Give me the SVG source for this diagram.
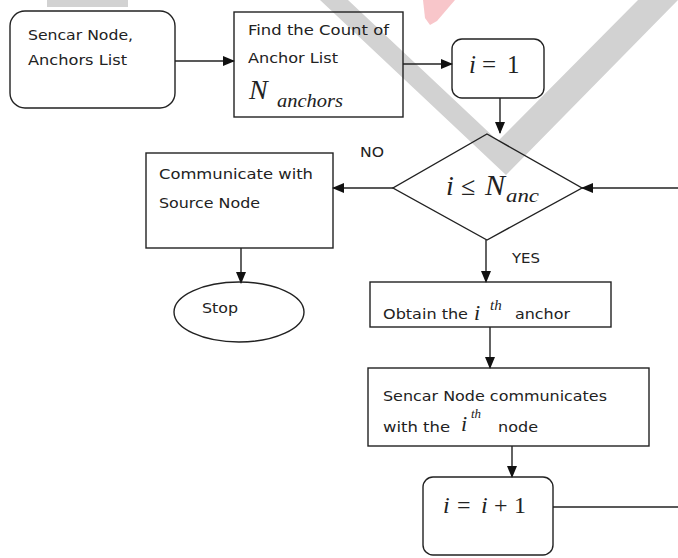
<svg xmlns="http://www.w3.org/2000/svg" width="678" height="558" viewBox="0 0 678 558">
<defs>
<marker id="ah" markerWidth="12" markerHeight="10" refX="11" refY="5" orient="auto" markerUnits="userSpaceOnUse">
<path d="M0,0 L12,5 L0,10 Z" fill="#111"/>
</marker>
<style>
.bx{fill:none;stroke:#222;stroke-width:1.4}
.ln{fill:none;stroke:#222;stroke-width:1.4}
.t{font-family:"DejaVu Sans",Verdana,sans-serif;font-size:14px;fill:#222}
.m{font-family:"Liberation Serif","Times New Roman",serif;fill:#222}
.it{font-style:italic}
.wm{fill:#d2d2d2}
</style>
</defs>
<rect width="678" height="558" fill="#fff"/>
<g id="watermark">
<rect class="wm" x="47" y="0" width="81" height="7"/>
<polygon class="wm" points="320,0 348,0 498,141 638,0 678,0 506,175"/>
<polygon fill="#f8c6ca" points="423,0 455,0 437,21 430,25 425,18"/>
</g>
<g id="connectors">
<line class="ln" x1="175" y1="61" x2="234" y2="61" marker-end="url(#ah)"/>
<line class="ln" x1="403" y1="64" x2="452" y2="64" marker-end="url(#ah)"/>
<line class="ln" x1="500" y1="98" x2="500" y2="133" marker-end="url(#ah)"/>
<line class="ln" x1="393" y1="188" x2="333" y2="188" marker-end="url(#ah)"/>
<line class="ln" x1="678" y1="188" x2="582" y2="188" marker-end="url(#ah)"/>
<line class="ln" x1="241" y1="248" x2="241" y2="283" marker-end="url(#ah)"/>
<line class="ln" x1="486" y1="240" x2="486" y2="282" marker-end="url(#ah)"/>
<line class="ln" x1="490" y1="327" x2="490" y2="368" marker-end="url(#ah)"/>
<line class="ln" x1="512" y1="446" x2="512" y2="477" marker-end="url(#ah)"/>
<line class="ln" x1="553" y1="507" x2="678" y2="507"/>
<text class="t" x="360" y="157" font-size="13" textLength="24" lengthAdjust="spacingAndGlyphs">NO</text>
<text class="t" x="512" y="263" font-size="13" textLength="28" lengthAdjust="spacingAndGlyphs">YES</text>
</g>
<g id="start">
<rect class="bx" x="10" y="11" width="165" height="97" rx="15"/>
<text class="t" x="28" y="40" textLength="105" lengthAdjust="spacingAndGlyphs">Sencar Node,</text>
<text class="t" x="28" y="65" textLength="99" lengthAdjust="spacingAndGlyphs">Anchors List</text>
</g>
<g id="count">
<rect class="bx" x="234" y="12" width="169" height="105"/>
<text class="t" x="248" y="35" textLength="141" lengthAdjust="spacingAndGlyphs">Find the Count of</text>
<text class="t" x="248" y="63" textLength="90" lengthAdjust="spacingAndGlyphs">Anchor List</text>
<text class="m it" x="249" y="99" font-size="28">N</text>
<text class="m it" x="277" y="107" font-size="18" textLength="66" lengthAdjust="spacingAndGlyphs">anchors</text>
</g>
<g id="init">
<rect class="bx" x="452" y="39" width="92" height="59" rx="10"/>
<text class="m it" x="469" y="73" font-size="25">i</text>
<text class="m" x="482" y="73" font-size="25">=</text>
<text class="m" x="507" y="73" font-size="25">1</text>
</g>
<g id="decision">
<polygon class="bx" points="487,134 582,188 487,240 393,188"/>
<text class="m it" x="446" y="195" font-size="28">i</text>
<text class="m" x="461" y="195" font-size="26">≤</text>
<text class="m it" x="485" y="195" font-size="30">N</text>
<text class="m it" x="506" y="202" font-size="18" textLength="33" lengthAdjust="spacingAndGlyphs">anc</text>
</g>
<g id="communicate">
<rect class="bx" x="146" y="153" width="187" height="95"/>
<text class="t" x="159" y="179" textLength="154" lengthAdjust="spacingAndGlyphs">Communicate  with</text>
<text class="t" x="159" y="208" textLength="101" lengthAdjust="spacingAndGlyphs">Source Node</text>
</g>
<g id="stop">
<ellipse class="bx" cx="239" cy="312" rx="65" ry="30"/>
<text class="t" x="202" y="313" textLength="36" lengthAdjust="spacingAndGlyphs">Stop</text>
</g>
<g id="obtain">
<rect class="bx" x="370" y="282" width="241" height="45"/>
<text class="t" x="383" y="319" textLength="85" lengthAdjust="spacingAndGlyphs">Obtain the</text>
<text class="m it" x="474" y="320" font-size="22">i</text>
<text class="m it" x="490" y="310" font-size="15">th</text>
<text class="t" x="515" y="319" textLength="55" lengthAdjust="spacingAndGlyphs">anchor</text>
</g>
<g id="communicate-ith">
<rect class="bx" x="368" y="368" width="281" height="78"/>
<text class="t" x="383" y="401" textLength="224" lengthAdjust="spacingAndGlyphs">Sencar Node communicates</text>
<text class="t" x="383" y="432" textLength="67" lengthAdjust="spacingAndGlyphs">with the</text>
<text class="m it" x="461" y="431" font-size="22">i</text>
<text class="m it" x="471" y="418" font-size="13">th</text>
<text class="t" x="498" y="432" textLength="40" lengthAdjust="spacingAndGlyphs">node</text>
</g>
<g id="increment">
<rect class="bx" x="423" y="477" width="130" height="78" rx="10"/>
<text class="m it" x="443" y="513" font-size="24">i</text>
<text class="m" x="457" y="513" font-size="24">=</text>
<text class="m it" x="481" y="513" font-size="24">i</text>
<text class="m" x="494" y="513" font-size="24">+</text>
<text class="m" x="514" y="513" font-size="24">1</text>
</g>
</svg>
